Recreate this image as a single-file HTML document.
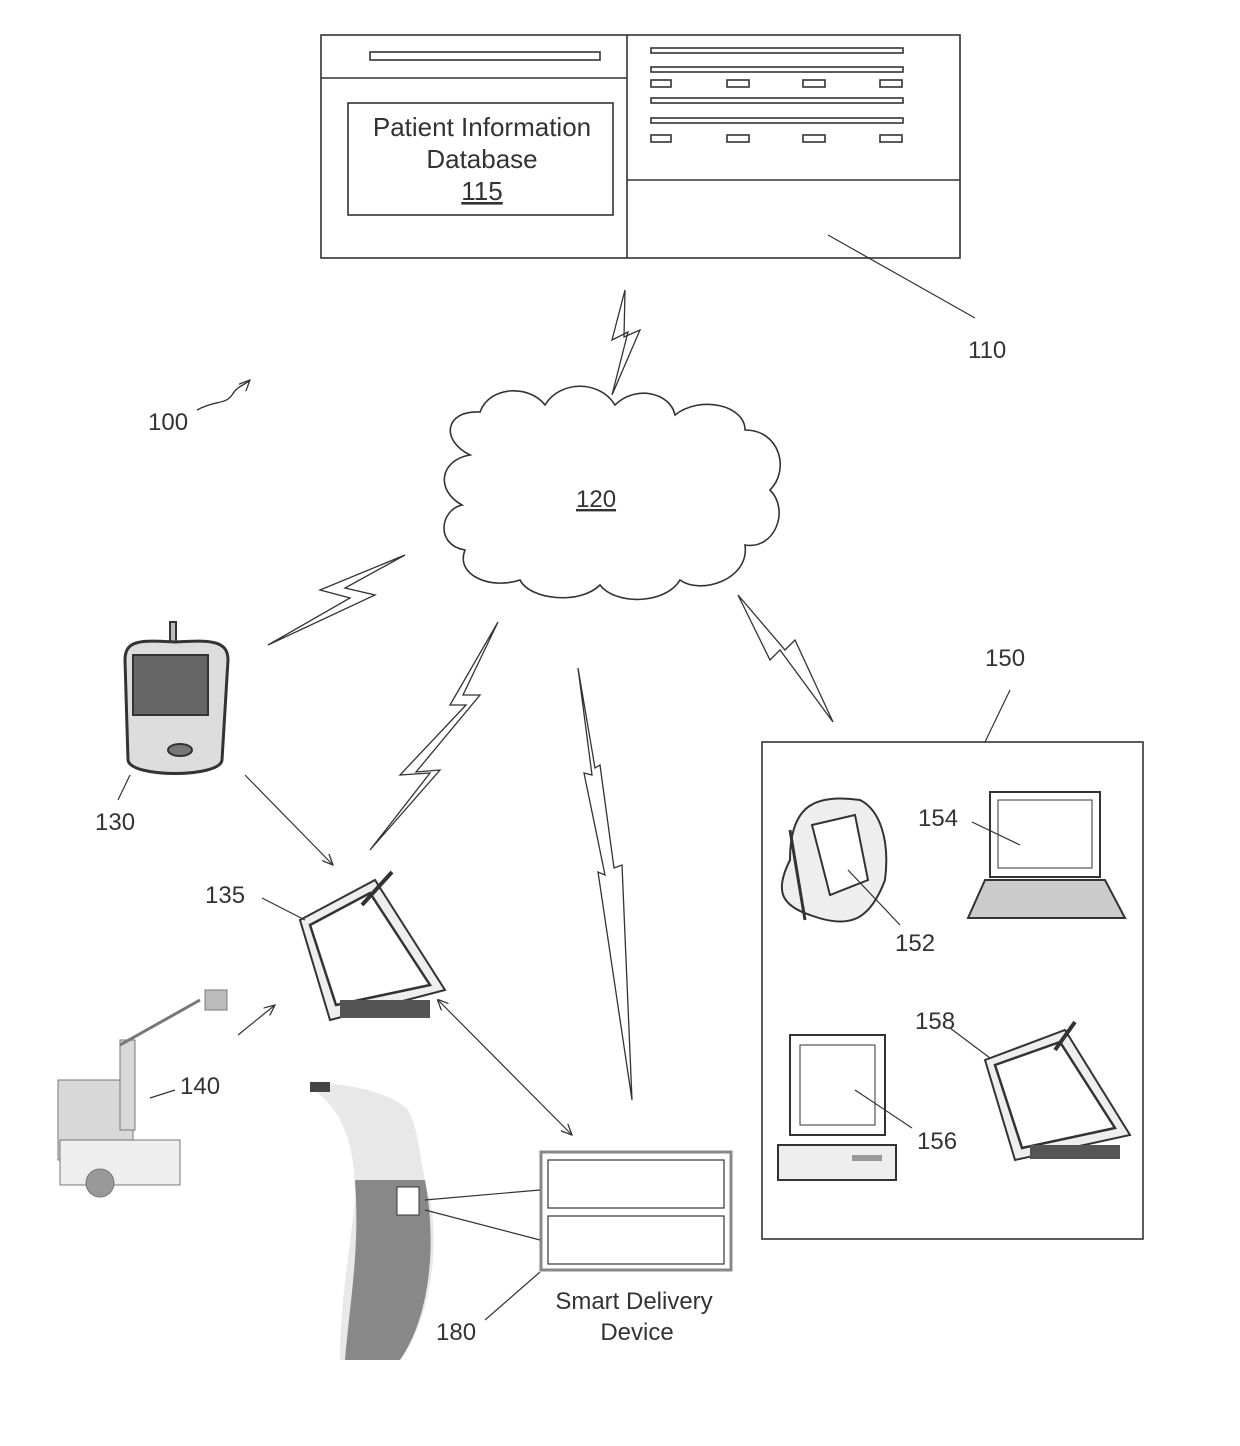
<!DOCTYPE html>
<html><head><meta charset="utf-8"><style>
html,body{margin:0;padding:0;background:#fff;}
svg text{font-family:"Liberation Sans",sans-serif;fill:#333;}
</style></head><body>
<svg width="1240" height="1441" viewBox="0 0 1240 1441" xmlns="http://www.w3.org/2000/svg">
<defs>
<marker id="ah" markerWidth="12" markerHeight="10" refX="11" refY="5" orient="auto" markerUnits="userSpaceOnUse"><path d="M0,0 L11,5 L0,10" fill="none" stroke="#333" stroke-width="1.3"/></marker>
<marker id="ahs" markerWidth="12" markerHeight="10" refX="1" refY="5" orient="auto" markerUnits="userSpaceOnUse"><path d="M11,0 L0,5 L11,10" fill="none" stroke="#333" stroke-width="1.3"/></marker>
</defs>
<g fill="none" stroke="#333" stroke-width="1.6">
<rect x="321" y="35" width="639" height="223"/>
<line x1="627" y1="35" x2="627" y2="258"/>
<line x1="321" y1="78" x2="627" y2="78"/>
<rect x="370" y="52" width="230" height="8"/>
<rect x="348" y="103" width="265" height="112"/>
<line x1="627" y1="180" x2="960" y2="180"/>
<rect x="651" y="48" width="252" height="5"/>
<rect x="651" y="67" width="252" height="5"/>
<rect x="651" y="98" width="252" height="5"/>
<rect x="651" y="118" width="252" height="5"/>
<rect x="651" y="80" width="20" height="7"/><rect x="727" y="80" width="22" height="7"/><rect x="803" y="80" width="22" height="7"/><rect x="880" y="80" width="22" height="7"/>
<rect x="651" y="135" width="20" height="7"/><rect x="727" y="135" width="22" height="7"/><rect x="803" y="135" width="22" height="7"/><rect x="880" y="135" width="22" height="7"/>
<line x1="828" y1="235" x2="975" y2="318" stroke-width="1.2"/>
<path d="M470,455 C440,440 445,410 480,412 C490,385 530,385 545,405 C560,380 600,380 615,405 C635,385 670,392 675,415 C700,395 745,405 745,430 C780,430 790,470 770,490 C790,510 775,550 745,545 C750,580 700,595 680,580 C665,605 615,605 600,585 C580,605 530,600 520,580 C490,590 455,575 465,550 C435,545 440,510 462,505 C435,490 440,460 470,455 Z"/>
<path d="M625,290 L612,340 L628,332 L612,395 L640,330 L624,337 Z" stroke-width="1.3"/>
<path d="M405,555 L320,590 L350,598 L268,645 L375,595 L345,588 Z" stroke-width="1.3"/>
<path d="M498,622 L450,705 L466,705 L400,775 L430,773 L370,850 L440,770 L416,772 L480,695 L463,695 Z" stroke-width="1.3"/>
<path d="M578,668 L592,775 L584,773 L605,875 L598,872 L632,1100 L622,865 L614,868 L600,765 L595,768 Z" stroke-width="1.3"/>
<path d="M738,595 L770,660 L780,650 L833,722 L795,640 L785,650 Z" stroke-width="1.3"/>
<path d="M197,410 C215,400 225,405 232,395 C238,385 244,386 250,380" stroke-width="1.3" marker-end="url(#ah)"/>
<line x1="245" y1="775" x2="333" y2="865" stroke-width="1.2" marker-end="url(#ah)"/>
<line x1="238" y1="1035" x2="275" y2="1005" stroke-width="1.2" marker-end="url(#ah)"/>
<line x1="438" y1="1000" x2="572" y2="1135" stroke-width="1.2" marker-start="url(#ahs)" marker-end="url(#ah)"/>
<rect x="762" y="742" width="381" height="497"/>
<line x1="985" y1="742" x2="1010" y2="690" stroke-width="1.2"/>
</g>
<g stroke="#333" stroke-width="2">
<rect x="170" y="622" width="6" height="20" fill="#bbb"/>
<path d="M125,660 C125,640 140,640 175,642 C210,640 228,640 228,660 L222,760 C220,778 130,778 128,760 Z" fill="#ddd" stroke-width="3"/>
<rect x="133" y="655" width="75" height="60" fill="#666"/>
<ellipse cx="180" cy="750" rx="12" ry="6" fill="#777"/>
</g>
<line x1="130" y1="775" x2="118" y2="800" stroke="#333" stroke-width="1.2"/>
<g stroke="#333">
<polygon points="300,920 375,880 445,990 330,1020" fill="#eee" stroke-width="2"/>
<polygon points="310,925 370,893 430,985 336,1005" fill="#fff" stroke-width="2.5"/>
<rect x="340" y="1000" width="90" height="18" fill="#555" stroke="none"/>
<line x1="362" y1="905" x2="392" y2="872" stroke-width="4"/>
</g>
<line x1="262" y1="898" x2="305" y2="920" stroke="#333" stroke-width="1.2"/>
<g stroke="#777" fill="#d8d8d8">
<rect x="58" y="1080" width="75" height="80"/>
<rect x="120" y="1040" width="15" height="90"/>
<rect x="60" y="1140" width="120" height="45" fill="#eee"/>
<circle cx="100" cy="1183" r="14" fill="#999"/>
<line x1="120" y1="1045" x2="200" y2="1000" stroke-width="3"/>
<rect x="205" y="990" width="22" height="20" fill="#bbb"/>
</g>
<line x1="150" y1="1098" x2="175" y2="1090" stroke="#333" stroke-width="1.2"/>
<g stroke="none">
<path d="M310,1085 C330,1080 390,1090 408,1110 C420,1130 420,1170 430,1200 C440,1250 430,1320 400,1360 L340,1360 C340,1300 350,1250 355,1200 C355,1160 350,1120 320,1095 Z" fill="#e8e8e8"/>
<path d="M355,1180 L425,1180 C438,1250 428,1320 400,1360 L345,1360 C350,1300 360,1250 355,1180 Z" fill="#888"/>
<rect x="397" y="1187" width="22" height="28" fill="#fff" stroke="#333"/>
<rect x="310" y="1082" width="20" height="10" fill="#444"/>
</g>
<g fill="#fff" stroke="#888" stroke-width="3">
<rect x="541" y="1152" width="190" height="118"/>
<rect x="548" y="1160" width="176" height="48" stroke="#333" stroke-width="1.2"/>
<rect x="548" y="1216" width="176" height="48" stroke="#333" stroke-width="1.2"/>
</g>
<g stroke="#333" stroke-width="1.2">
<line x1="540" y1="1190" x2="425" y2="1200"/>
<line x1="540" y1="1240" x2="425" y2="1210"/>
<line x1="540" y1="1272" x2="485" y2="1320"/>
</g>
<g stroke="#333" stroke-width="2" fill="#eee">
<path d="M790,860 C790,800 820,795 860,800 C880,810 890,840 885,880 C870,920 850,930 810,915 C780,905 775,890 790,860 Z"/>
<polygon points="812,825 855,815 868,880 830,895" fill="#fff"/>
<line x1="790" y1="830" x2="805" y2="920" stroke-width="3"/>
</g>
<line x1="848" y1="870" x2="900" y2="925" stroke="#333" stroke-width="1.2"/>
<g stroke="#333" stroke-width="2" fill="#fff">
<rect x="990" y="792" width="110" height="85"/>
<rect x="998" y="800" width="94" height="68" stroke-width="1"/>
<polygon points="985,880 1105,880 1125,918 968,918" fill="#ccc"/>
</g>
<line x1="972" y1="822" x2="1020" y2="845" stroke="#333" stroke-width="1.2"/>
<g stroke="#333" stroke-width="2" fill="#fff">
<rect x="790" y="1035" width="95" height="100"/>
<rect x="800" y="1045" width="75" height="80" stroke-width="1"/>
<rect x="778" y="1145" width="118" height="35" fill="#eee"/>
<rect x="852" y="1155" width="30" height="6" fill="#999" stroke="none"/>
</g>
<line x1="855" y1="1090" x2="912" y2="1128" stroke="#333" stroke-width="1.2"/>
<g stroke="#333">
<polygon points="985,1060 1065,1030 1130,1135 1015,1160" fill="#eee" stroke-width="2"/>
<polygon points="995,1065 1060,1042 1115,1128 1022,1148" fill="#fff" stroke-width="2.5"/>
<rect x="1030" y="1145" width="90" height="14" fill="#555" stroke="none"/>
<line x1="1055" y1="1050" x2="1075" y2="1022" stroke-width="4"/>
</g>
<line x1="950" y1="1028" x2="990" y2="1058" stroke="#333" stroke-width="1.2"/>
<g font-size="24">
<text x="482" y="136" text-anchor="middle" font-size="26">Patient Information</text>
<text x="482" y="168" text-anchor="middle" font-size="26">Database</text>
<text x="482" y="200" text-anchor="middle" text-decoration="underline" font-size="26">115</text>
<text x="968" y="358">110</text>
<text x="148" y="430">100</text>
<text x="576" y="507" text-decoration="underline">120</text>
<text x="985" y="666">150</text>
<text x="95" y="830">130</text>
<text x="205" y="903">135</text>
<text x="918" y="826">154</text>
<text x="895" y="951">152</text>
<text x="915" y="1029">158</text>
<text x="917" y="1149">156</text>
<text x="180" y="1094">140</text>
<text x="436" y="1340">180</text>
<text x="634" y="1309" text-anchor="middle">Smart Delivery</text>
<text x="637" y="1340" text-anchor="middle">Device</text>
</g>
</svg>
</body></html>
